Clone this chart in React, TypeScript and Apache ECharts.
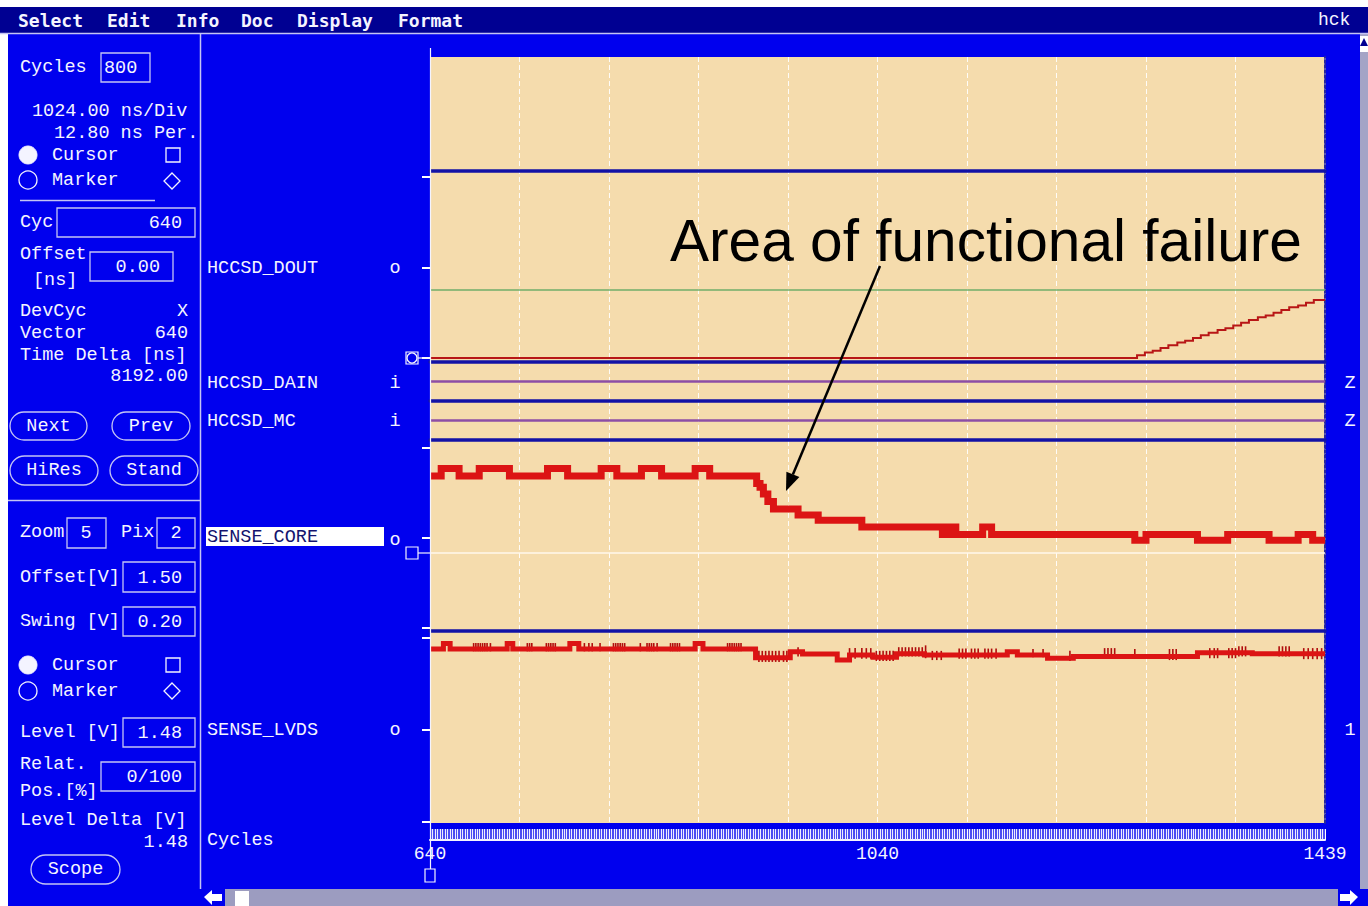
import React, { useEffect, useRef } from "react";
import * as echarts from "echarts";

// ---------------- data ----------------
const cycleMin = 640;
const cycleMax = 1440;
const cycleStep = 80;
const xTickLabels: Record<number, string> = { 640: "640", 1040: "1040", 1440: "1439" };

// HCCSD_DOUT analog view (lane units), step values [cycle, level]
const doutData: number[][] = [
  [640, 0], [1272, 0.03], [1279, 0.06], [1286, 0.08], [1293, 0.11], [1300, 0.14],
  [1308, 0.17], [1315, 0.19], [1322, 0.22], [1329, 0.25], [1336, 0.28], [1344, 0.31],
  [1351, 0.33], [1358, 0.36], [1365, 0.39], [1372, 0.42], [1380, 0.45], [1387, 0.47],
  [1394, 0.5], [1401, 0.53], [1408, 0.56], [1416, 0.58], [1423, 0.61], [1430, 0.64], [1440, 0.64],
];
const doutThreshold = 0.75;
const doutTicks = [0, 1, 2];

// HCCSD_DAIN / HCCSD_MC : high impedance (Z)
const dainData: number[][] = [[640, 0.5], [1440, 0.5]];
const mcData: number[][] = [[640, 0.5], [1440, 0.5]];

// SENSE_CORE [cycle, V]
const coreData: number[][] = [
  [640, 1.583], [650, 1.593], [666, 1.583], [684, 1.593], [711, 1.583], [745, 1.593],
  [763, 1.583], [793, 1.593], [807, 1.583], [829, 1.593], [847, 1.583], [877, 1.593],
  [890, 1.583], [932, 1.573], [935, 1.568], [938, 1.559], [942, 1.549], [947, 1.539],
  [969, 1.531], [987, 1.524], [1026, 1.515], [1098, 1.505], [1104, 1.515], [1110, 1.505],
  [1134, 1.515], [1142, 1.505], [1270, 1.497], [1280, 1.505], [1326, 1.497], [1353, 1.505],
  [1390, 1.497], [1416, 1.505], [1429, 1.497], [1440, 1.497],
];
const coreCursorLevel = 1.48;
const coreTicks = [1.38, 1.5, 1.62];

// SENSE_LVDS [cycle, V]
const lvdsLevelData: number[][] = [
  [640, 1.376], [652, 1.388], [658, 1.376], [709, 1.388], [714, 1.376], [765, 1.388],
  [773, 1.376], [877, 1.388], [884, 1.376], [931, 1.357], [962, 1.37], [973, 1.365],
  [1004, 1.352], [1015, 1.363], [1036, 1.358], [1057, 1.366], [1082, 1.363], [1156, 1.37],
  [1165, 1.363], [1192, 1.356], [1215, 1.36], [1326, 1.368], [1375, 1.366], [1440, 1.366],
];
// glitches [cycle, low V, high V]
const lvdsGlitches: number[][] = [
  [679, 1.371, 1.389], [681, 1.371, 1.389], [683, 1.371, 1.389], [685, 1.371, 1.389],
  [687, 1.371, 1.389], [689, 1.371, 1.389], [691, 1.371, 1.389], [694, 1.371, 1.389],
  [727, 1.371, 1.389], [729, 1.371, 1.389], [731, 1.371, 1.389],
  [744, 1.371, 1.389], [746, 1.371, 1.389], [748, 1.371, 1.389], [750, 1.371, 1.389], [752, 1.371, 1.389],
  [778, 1.371, 1.389], [782, 1.371, 1.389], [785, 1.371, 1.389], [792, 1.371, 1.389],
  [804, 1.371, 1.389], [806, 1.371, 1.389], [808, 1.371, 1.389], [810, 1.371, 1.389], [812, 1.371, 1.389], [814, 1.371, 1.389],
  [828, 1.371, 1.389],
  [834, 1.371, 1.389], [836, 1.371, 1.389], [838, 1.371, 1.389], [840, 1.371, 1.389], [843, 1.371, 1.389],
  [855, 1.371, 1.389], [857, 1.371, 1.389], [859, 1.371, 1.389], [861, 1.371, 1.389], [863, 1.371, 1.389],
  [906, 1.371, 1.389], [908, 1.371, 1.389], [910, 1.371, 1.389], [912, 1.371, 1.389],
  [914, 1.371, 1.389], [916, 1.371, 1.389], [918, 1.371, 1.389],
  [934, 1.348, 1.372], [937, 1.348, 1.372], [940, 1.348, 1.372], [943, 1.348, 1.372], [946, 1.348, 1.372],
  [949, 1.348, 1.372], [952, 1.348, 1.372], [956, 1.348, 1.372], [959, 1.348, 1.372],
  [969, 1.36, 1.38], [1015, 1.355, 1.378], [1020, 1.355, 1.378], [1026, 1.355, 1.378],
  [1030, 1.355, 1.378], [1034, 1.355, 1.378],
  [1039, 1.35, 1.372], [1042, 1.35, 1.372], [1045, 1.35, 1.372], [1048, 1.35, 1.372], [1051, 1.35, 1.372], [1054, 1.35, 1.372],
  [1059, 1.36, 1.38], [1062, 1.36, 1.38], [1065, 1.36, 1.38], [1068, 1.36, 1.38],
  [1071, 1.36, 1.38], [1074, 1.36, 1.38], [1077, 1.36, 1.38], [1080, 1.36, 1.38],
  [1083, 1.356, 1.384], [1089, 1.352, 1.372], [1093, 1.352, 1.372], [1097, 1.352, 1.372],
  [1113, 1.355, 1.377], [1116, 1.355, 1.377], [1119, 1.355, 1.377], [1124, 1.355, 1.377], [1127, 1.355, 1.377],
  [1130, 1.355, 1.377], [1136, 1.355, 1.377], [1139, 1.355, 1.377], [1142, 1.355, 1.377], [1146, 1.355, 1.377],
  [1179, 1.358, 1.376], [1188, 1.358, 1.376], [1212, 1.35, 1.372],
  [1243, 1.355, 1.378], [1246, 1.355, 1.378], [1249, 1.355, 1.378], [1252, 1.355, 1.378],
  [1270, 1.356, 1.376], [1301, 1.352, 1.376], [1304, 1.352, 1.376], [1307, 1.352, 1.376],
  [1337, 1.356, 1.378], [1341, 1.356, 1.378], [1344, 1.356, 1.378],
  [1354, 1.356, 1.378], [1357, 1.356, 1.378], [1360, 1.356, 1.378],
  [1363, 1.36, 1.382], [1366, 1.36, 1.382], [1369, 1.36, 1.382],
  [1399, 1.36, 1.382], [1402, 1.36, 1.382], [1405, 1.36, 1.382], [1408, 1.36, 1.382],
  [1421, 1.354, 1.378], [1425, 1.354, 1.378], [1429, 1.354, 1.378], [1433, 1.354, 1.378], [1437, 1.354, 1.378],
];
const lvdsTicks = [1.0, 1.2, 1.4];

const menuItems = ["Select", "Edit", "Info", "Doc", "Display", "Format"];
const signalNames = ["HCCSD_DOUT", "HCCSD_DAIN", "HCCSD_MC", "SENSE_CORE", "SENSE_LVDS"];
const annotationText = "Area of functional failure";

// ---------------- styling ----------------
const BLUE = "#0000ee";
const NAVY = "#000092";
const WHEAT = "#f5dcad";
const WHITE = "#f4f4ff";
const LANE_BLUE = "#1212a6";
const SEP = "#c4c4f4";
const MONO = '"Liberation Mono", "DejaVu Sans Mono", monospace';

type TO = { fill?: string; size?: number; family?: string; weight?: string; align?: string; z?: number };
function txt(x: number, y: number, s: string, o: TO = {}) {
  const align = o.align ?? "left";
  return {
    type: "text", x, y, z: o.z ?? 10, silent: true,
    style: {
      text: s, fill: o.fill ?? WHITE, fontSize: o.size ?? 18.5, fontFamily: o.family ?? MONO,
      fontWeight: o.weight ?? "normal", textAlign: align, align,
      textVerticalAlign: "middle", verticalAlign: "middle",
    },
  };
}
function rect(x: number, y: number, w: number, h: number, style: any, r = 0, z = 5) {
  return { type: "rect", z, silent: true, shape: { x, y, width: w, height: h, r }, style };
}
function ln(x1: number, y1: number, x2: number, y2: number, stroke: string, lw = 1, z = 5) {
  return { type: "line", z, silent: true, shape: { x1, y1, x2, y2 }, style: { stroke, lineWidth: lw } };
}
function box(x: number, y: number, w: number, h: number) {
  return rect(x, y, w, h, { fill: "none", stroke: SEP, lineWidth: 1.3 });
}
function btn(x: number, y: number, w: number, h: number, label: string) {
  return [
    rect(x, y, w, h, { fill: "none", stroke: SEP, lineWidth: 1.3 }, h / 2),
    txt(x + w / 2, y + h / 2, label, { align: "center" }),
  ];
}
function diamond(cx: number, cy: number, s: number) {
  return {
    type: "polygon", z: 5, silent: true,
    shape: { points: [[cx, cy - s], [cx + s, cy], [cx, cy + s], [cx - s, cy]] },
    style: { fill: "none", stroke: WHITE, lineWidth: 1.3 },
  };
}
function circ(cx: number, cy: number, r: number, filled: boolean) {
  return {
    type: "circle", z: 5, silent: true, shape: { cx, cy, r },
    style: filled ? { fill: WHITE, stroke: WHITE } : { fill: "none", stroke: WHITE, lineWidth: 1.3 },
  };
}

function buildGraphics() {
  const g: any[] = [];
  // frame
  g.push(rect(0, 0, 1368, 7, { fill: "#ffffff" }, 0, 1));
  g.push(rect(0, 7, 1368, 26, { fill: NAVY }, 0, 1));
  g.push(rect(0, 33, 8, 873, { fill: "#ffffff" }, 0, 1));
  g.push(ln(0, 33.5, 1368, 33.5, SEP, 1.5));
  g.push(ln(200.5, 33, 200.5, 889, SEP, 1.5));
  g.push(ln(8, 500.5, 200, 500.5, SEP, 1.5));
  // menu
  const menuX = [18, 107, 176, 241, 297, 398];
  menuItems.forEach((m, i) => g.push(txt(menuX[i], 20, m, { weight: "bold", size: 18, family: '"DejaVu Sans Mono", monospace' })));
  g.push(txt(1318, 20, "hck", { size: 18 }));

  // left panel
  g.push(txt(20, 67, "Cycles"), box(101, 53, 49, 29), txt(104, 68, "800"));
  g.push(txt(32, 111, "1024.00 ns/Div"), txt(54, 133, "12.80 ns Per."));
  g.push(circ(28, 155, 9, true), txt(52, 155, "Cursor"), rect(166, 148, 14, 14, { fill: "none", stroke: WHITE, lineWidth: 1.3 }));
  g.push(circ(28, 180, 9, false), txt(52, 180, "Marker"), diamond(172, 181, 8));
  g.push(ln(20, 200.5, 155, 200.5, SEP, 1.5));
  g.push(txt(20, 222, "Cyc"), box(57, 208, 138, 29), txt(182, 223, "640", { align: "right" }));
  g.push(txt(20, 254, "Offset"), txt(33, 280, "[ns]"), box(90, 252, 83, 29), txt(160, 267, "0.00", { align: "right" }));
  g.push(txt(20, 311, "DevCyc"), txt(188, 311, "X", { align: "right" }));
  g.push(txt(20, 333, "Vector"), txt(188, 333, "640", { align: "right" }));
  g.push(txt(20, 355, "Time Delta [ns]"), txt(188, 376, "8192.00", { align: "right" }));
  g.push(...btn(10, 412, 77, 28, "Next"), ...btn(112, 412, 78, 28, "Prev"));
  g.push(...btn(10, 456, 88, 29, "HiRes"), ...btn(110, 456, 88, 29, "Stand"));
  g.push(txt(20, 532, "Zoom"), box(67, 518, 39, 30), txt(86, 533, "5", { align: "center" }));
  g.push(txt(121, 532, "Pix"), box(157, 518, 38, 30), txt(176, 533, "2", { align: "center" }));
  g.push(txt(20, 577, "Offset[V]"), box(123, 562, 72, 30), txt(182, 578, "1.50", { align: "right" }));
  g.push(txt(20, 621, "Swing [V]"), box(123, 607, 72, 29), txt(182, 622, "0.20", { align: "right" }));
  g.push(circ(28, 665, 9, true), txt(52, 665, "Cursor"), rect(166, 658, 14, 14, { fill: "none", stroke: WHITE, lineWidth: 1.3 }));
  g.push(circ(28, 691, 9, false), txt(52, 691, "Marker"), diamond(172, 691, 8));
  g.push(txt(20, 732, "Level [V]"), box(123, 718, 72, 29), txt(182, 733, "1.48", { align: "right" }));
  g.push(txt(20, 764, "Relat."), txt(20, 791, "Pos.[%]"), box(101, 762, 94, 29), txt(182, 777, "0/100", { align: "right" }));
  g.push(txt(20, 820, "Level Delta [V]"), txt(188, 842, "1.48", { align: "right" }));
  g.push(...btn(31, 855, 89, 29, "Scope"));

  // signal name column
  const nameY = [268, 383, 421, 537, 730];
  const dirs = ["o", "i", "i", "o", "o"];
  signalNames.forEach((n, i) => {
    if (n === "SENSE_CORE") {
      g.push(rect(206, 527, 178, 19, { fill: "#ffffff" }, 0, 6));
      g.push(txt(207, nameY[i], n, { fill: "#14146e" }));
    } else {
      g.push(txt(207, nameY[i], n));
    }
    g.push(txt(395, nameY[i] + (n === "SENSE_CORE" ? 3 : 0), dirs[i], { align: "center" }));
  });
  g.push(txt(207, 840, "Cycles"));
  // right side states
  g.push(txt(1350, 383, "Z", { align: "center" }), txt(1350, 421, "Z", { align: "center" }), txt(1350, 730, "1", { align: "center" }));

  // markers
  g.push(rect(406, 352, 12, 12, { fill: "none", stroke: WHITE, lineWidth: 1.2 }), circ(412, 358, 5, false), ln(418, 358, 430, 358, WHITE, 1.2));
  g.push(rect(406, 547, 12, 12, { fill: "none", stroke: WHITE, lineWidth: 1.2 }), ln(418, 553, 430, 553, WHITE, 1.2));
  g.push(ln(430.5, 48, 430.5, 869, WHITE, 1.2, 40));
  g.push(rect(425, 869, 10, 13, { fill: "none", stroke: WHITE, lineWidth: 1.2 }, 0, 40));

  // scrollbars
  g.push(rect(200, 889, 1160, 17, { fill: "#9c9cc0" }, 0, 2));
  g.push(rect(200, 889, 25, 17, { fill: BLUE }, 0, 3));
  g.push({ type: "polygon", z: 4, silent: true, shape: { points: [[204, 897], [212, 890], [212, 894], [222, 894], [222, 901], [212, 901], [212, 905]] }, style: { fill: "#ffffff" } });
  g.push(rect(235, 891, 14, 15, { fill: "#ffffff" }, 0, 4));
  g.push(rect(1338, 889, 22, 17, { fill: BLUE }, 0, 3));
  g.push({ type: "polygon", z: 4, silent: true, shape: { points: [[1358, 897], [1350, 890], [1350, 894], [1340, 894], [1340, 901], [1350, 901], [1350, 905]] }, style: { fill: "#ffffff" } });
  g.push(rect(1360, 34, 8, 855, { fill: "#a4a4c6" }, 0, 2));
  g.push(rect(1360, 36, 8, 16, { fill: "#ffffff" }, 0, 3));
  g.push({ type: "polygon", z: 4, silent: true, shape: { points: [[1364, 38], [1368, 46], [1360, 46]] }, style: { fill: NAVY } });

  // annotation
  g.push(txt(670, 240, annotationText, { fill: "#000000", size: 58.6, family: '"Liberation Sans", Arial, sans-serif', z: 100 }));
  g.push(ln(880, 266, 792.9, 474.4, "#000000", 2.5, 100));
  g.push({ type: "polygon", z: 100, silent: true, shape: { points: [[786, 491], [799.4, 477.1], [786.4, 471.7]] }, style: { fill: "#000000" } });
  return g;
}

export default function App() {
  const ref = useRef<HTMLDivElement>(null);
  useEffect(() => {
    if (!ref.current) return;
    const chart = echarts.init(ref.current, null, { renderer: "svg" });
    const L = 430;
    const R = 1368 - 1325;
    const lanes = [
      { top: 171, height: 191, min: -0.0442, max: 2.066, ticks: doutTicks },
      { top: 362, height: 39, min: 0, max: 1, ticks: null },
      { top: 401, height: 39, min: 0, max: 1, ticks: null },
      { top: 440, height: 191, min: 1.376, max: 1.631, ticks: coreTicks },
      { top: 631, height: 192, min: 0.9978, max: 1.4152, ticks: lvdsTicks },
    ];
    const xBase = { type: "value", min: cycleMin, max: cycleMax, interval: cycleStep };
    const grids: any[] = [
      { left: L, right: R, top: 57, height: 766, show: true, backgroundColor: WHEAT, borderWidth: 0 },
      ...lanes.map((l) => ({ left: L, right: R, top: l.top, height: l.height })),
      { left: L, right: R, top: 829, height: 11, show: true, backgroundColor: "#4c4cf2", borderWidth: 0 },
    ];
    const xAxes: any[] = [
      {
        ...xBase, gridIndex: 0, axisLine: { show: false }, axisTick: { show: false }, axisLabel: { show: false },
        splitLine: { show: true, lineStyle: { color: "rgba(255,255,255,0.9)", type: [5, 3], width: 1 } },
      },
      ...lanes.map((_, i) => ({
        ...xBase, gridIndex: i + 1, position: "top",
        axisLine: { show: true, onZero: false, lineStyle: { color: LANE_BLUE, width: 3.5 } },
        axisTick: { show: false }, axisLabel: { show: false }, splitLine: { show: false },
      })),
      {
        ...xBase, gridIndex: 6, position: "bottom",
        axisLine: { show: true, onZero: false, lineStyle: { color: "#f4f4ff", width: 2 } },
        axisTick: { show: true, inside: true, length: 11, lineStyle: { color: "#ffffff", width: 1 } },
        minorTick: { show: true, splitNumber: 36, length: 11, lineStyle: { color: "#eeeeff", width: 1 } },
        axisLabel: {
          show: true, interval: 0, margin: 5, color: WHITE, fontFamily: MONO, fontSize: 18,
          formatter: (v: number) => xTickLabels[v] ?? "",
        },
        splitLine: { show: false },
      },
    ];
    const yAxes: any[] = [
      {
        type: "value", gridIndex: 0, min: 0, max: 1, position: "right",
        axisLine: { show: true, lineStyle: { color: "#2626a0", type: [3, 2], width: 2 } },
        axisTick: { show: false }, axisLabel: { show: false }, splitLine: { show: false },
      },
      ...lanes.map((l, i) => ({
        type: "value", gridIndex: i + 1, min: l.min, max: l.max,
        axisLine: { show: false },
        axisTick: l.ticks
          ? { show: true, customValues: l.ticks, length: 8, lineStyle: { color: "#ffffff", width: 2 } }
          : { show: false },
        axisLabel: { show: false }, splitLine: { show: false },
      })),
      { type: "value", gridIndex: 6, min: 0, max: 1, show: false },
    ];
    const lineBase = { type: "line", symbol: "none", showSymbol: false, animation: false, emphasis: { disabled: true } };
    chart.setOption({
      animation: false,
      backgroundColor: BLUE,
      grid: grids,
      xAxis: xAxes,
      yAxis: yAxes,
      series: [
        {
          ...lineBase, name: "HCCSD_DOUT", xAxisIndex: 1, yAxisIndex: 1, data: doutData, step: "end",
          lineStyle: { color: "#b81616", width: 2, join: "miter" },
          markLine: {
            silent: true, symbol: "none", label: { show: false },
            lineStyle: { color: "#6fae6a", width: 1.5, type: "solid" }, data: [{ yAxis: doutThreshold }],
          },
        },
        { ...lineBase, name: "HCCSD_DAIN", xAxisIndex: 2, yAxisIndex: 2, data: dainData, lineStyle: { color: "#8c4ea6", width: 2.5 } },
        { ...lineBase, name: "HCCSD_MC", xAxisIndex: 3, yAxisIndex: 3, data: mcData, lineStyle: { color: "#8c4ea6", width: 2.5 } },
        {
          ...lineBase, name: "SENSE_CORE", xAxisIndex: 4, yAxisIndex: 4, data: coreData, step: "end",
          lineStyle: { color: "#dc1414", width: 7, join: "miter", cap: "butt" },
          markLine: {
            silent: true, symbol: "none", label: { show: false },
            lineStyle: { color: "#fff8ec", width: 1.5, type: "solid" }, data: [{ yAxis: coreCursorLevel }],
          },
        },
        {
          ...lineBase, name: "SENSE_LVDS", xAxisIndex: 5, yAxisIndex: 5, data: lvdsLevelData, step: "end",
          lineStyle: { color: "#dc1414", width: 5, join: "miter", cap: "butt" },
        },
        {
          type: "custom", name: "SENSE_LVDS glitches", xAxisIndex: 5, yAxisIndex: 5, data: lvdsGlitches,
          encode: { x: 0, y: [1, 2] }, silent: true,
          renderItem: (_p: any, api: any) => {
            const c = api.value(0);
            const a = api.coord([c, api.value(1)]);
            const b = api.coord([c, api.value(2)]);
            return { type: "line", shape: { x1: a[0], y1: a[1], x2: b[0], y2: b[1] }, style: { stroke: "#b00c0c", lineWidth: 1.6 } };
          },
        },
      ],
      graphic: { elements: buildGraphics() },
    });
    return () => chart.dispose();
  }, []);
  return <div ref={ref} style={{ position: "fixed", left: 0, top: 0, width: 1368, height: 906 }} />;
}
